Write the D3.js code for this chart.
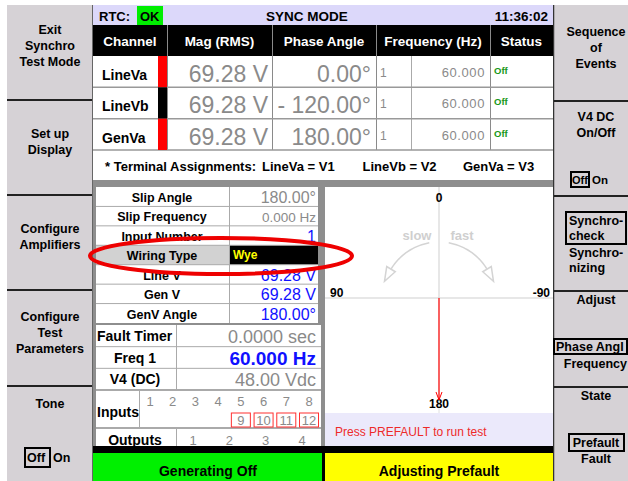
<!DOCTYPE html>
<html>
<head>
<meta charset="utf-8">
<script src="https://cdn.jsdelivr.net/npm/d3@7"></script>
<style>
  body { margin: 0; background: #fff; }
  text { font-family: "Liberation Sans", Arial, Helvetica, sans-serif; }
</style>
</head>
<body>
<div id="chart"></div>
<script>
// ---- data ----
const headers = ['Channel', 'Mag (RMS)', 'Phase Angle', 'Frequency (Hz)', 'Status'];
const channels = ['LineVa', 'LineVb', 'GenVa'];
const channelColors = ['#ff0000', '#000000', '#ff0000'];
const magnitudes = [69.28, 69.28, 69.28];
const phaseAngles = [0, -120, 180];
const freqInputs = [1, 1, 1];
const frequencies = [60, 60, 60];
const statuses = ['Off', 'Off', 'Off'];
const terminals = ['V1', 'V2', 'V3'];

const leftButtons = [['Exit', 'Synchro', 'Test Mode'], ['Set up', 'Display'], ['Configure', 'Amplifiers'], ['Configure', 'Test', 'Parameters'], ['Tone']];
const rightButtons = [['Sequence', 'of', 'Events'], ['V4 DC', 'On/Off'], [], ['Adjust'], ['State']];

const syncLabels = ['Slip Angle', 'Slip Frequency', 'Input Number', 'Wiring Type', 'Line V', 'Gen V', 'GenV Angle'];
const syncValues = ['180.00°', '0.000 Hz', '1', 'Wye', '69.28 V', '69.28 V', '180.00°'];
const testLabels = ['Fault Timer', 'Freq 1', 'V4 (DC)'];
const testValues = ['0.0000 sec', '60.000 Hz', '48.00 Vdc'];
const inputsTop = [1, 2, 3, 4, 5, 6, 7, 8];
const inputsBottom = [9, 10, 11, 12];
const outputs = [1, 2, 3, 4];

const polarTicks = [0, 90, -90, 180];
const slipAngle = 180;

// ---- setup ----
const width = 628, height = 481;
const panelGray = '#d6d2d6';
const svg = d3.select('#chart').append('svg')
  .attr('width', width)
  .attr('height', height);

const label = (x, y, s, o = {}) => svg.append('text')
  .attr('x', x).attr('y', y)
  .attr('font-size', o.size || 12)
  .attr('font-weight', o.weight || 'bold')
  .attr('fill', o.fill || '#000')
  .attr('text-anchor', o.anchor || 'start')
  .attr('letter-spacing', o.ls || 0)
  .text(s);

const rect = (x, y, w, h, fill) => svg.append('rect')
  .attr('x', x).attr('y', y).attr('width', w).attr('height', h).attr('fill', fill);

const line = (x1, y1, x2, y2, stroke, sw = 1) => svg.append('line')
  .attr('x1', x1).attr('y1', y1).attr('x2', x2).attr('y2', y2)
  .attr('stroke', stroke).attr('stroke-width', sw);

const box = (x, y, w, h) => svg.append('rect')
  .attr('x', x).attr('y', y).attr('width', w).attr('height', h)
  .attr('fill', 'none').attr('stroke', '#000').attr('stroke-width', 2);

// ---- side panels ----
rect(7, 5, 86, 476, panelGray);
rect(553, 5, 75, 476, panelGray);
line(92.5, 5, 92.5, 481, '#666');
line(553.5, 5, 553.5, 481, '#333', 1.5);

const sepY = [100, 195, 290, 386];
sepY.forEach(y => {
  line(7, y, 92, y, '#222', 2);
  line(554, y + 1, 628, y + 1, '#222', 2);
});

const btnTop = [5].concat(sepY);
const leftOffset = [29, 38, 38, 31, 22];
const rightOffset = [31, 21, 0, 14, 14];
leftButtons.forEach((lines, i) => {
  lines.forEach((s, j) => label(50, btnTop[i] + leftOffset[i] + j * 16, s, { size: 12.5, anchor: 'middle' }));
});
rightButtons.forEach((lines, i) => {
  lines.forEach((s, j) => label(596, btnTop[i] + rightOffset[i] + j * 16, s, { size: 12.5, anchor: 'middle' }));
});

// toggles
box(25, 448, 25, 19);
label(27, 462, 'Off', { size: 12.5 });
label(53, 462, 'On', { size: 12.5 });
box(571, 172, 18, 15);
label(572, 184, 'Off', { size: 11 });
label(592, 184, 'On', { size: 11.5 });

box(566, 212, 60, 32);
label(569, 225, 'Synchro-', { size: 12.5 });
label(569, 240, 'check', { size: 12.5 });
label(569, 257, 'Synchro-', { size: 12.5 });
label(569, 272, 'nizing', { size: 12.5 });

box(554, 339, 73, 15);
label(556, 351, 'Phase Angl', { size: 12.5 });
label(627, 368, 'Frequency', { size: 12.5, anchor: 'end' });

box(569, 434, 55, 17);
label(596, 447, 'Prefault', { size: 12.5, anchor: 'middle' });
label(596, 463, 'Fault', { size: 12.5, anchor: 'middle' });

// ---- top bar ----
rect(93, 5, 460, 20, '#dcd8fa');
rect(137, 6, 26, 19, '#00ee00');
label(99, 21, 'RTC:', { size: 13 });
label(140, 21, 'OK', { size: 13 });
label(307, 21, 'SYNC MODE', { size: 13.5, anchor: 'middle' });
label(548, 21, '11:36:02', { size: 13.5, anchor: 'end' });

// ---- channel table ----
const colX = [93, 167, 272, 376, 490, 553];
rect(93, 25, 460, 31, '#000');
headers.forEach((h, i) => {
  label((colX[i] + colX[i + 1]) / 2, 46, h, { size: 13.5, fill: '#fff', anchor: 'middle' });
});

const rowY = d3.scaleBand().domain(channels).range([56, 150]);
rect(93, 56, 460, 124, '#fff');
colX.slice(1, 5).forEach(x => line(x + 0.5, 25, x + 0.5, 150, '#8a8a8a'));
line(411.5, 56, 411.5, 150, '#aaa');
channels.forEach((c, i) => {
  const y = rowY(c);
  line(93, y + rowY.bandwidth(), 553, y + rowY.bandwidth(), '#999', 1.5);
  rect(158, y, 9, rowY.bandwidth(), channelColors[i]);
  label(102, y + 24, c, { size: 14 });
  label(268, y + 26, d3.format('.2f')(magnitudes[i]) + ' V', { size: 23, weight: 'normal', fill: '#8a8a8a', anchor: 'end' });
  const p = phaseAngles[i];
  label(371, y + 26, (p < 0 ? '- ' : '') + d3.format('.2f')(Math.abs(p)) + '°', { size: 23, weight: 'normal', fill: '#8a8a8a', anchor: 'end' });
  label(380, y + 21, freqInputs[i], { size: 12, weight: 'normal', fill: '#8a8a8a' });
  label(485, y + 21, d3.format('.3f')(frequencies[i]), { size: 13, weight: 'normal', fill: '#8a8a8a', anchor: 'end', ls: 0.6 });
  label(494, y + 18, statuses[i], { size: 9.5, fill: '#189818' });
});

// terminal assignments
label(105, 171, '* Terminal Assignments:', { size: 13 });
const termX = d3.scalePoint().domain(channels).range([262, 463]);
channels.forEach((c, i) => label(termX(c), 171, `${c} = ${terminals[i]}`, { size: 13 }));

// ---- lower left tables ----
rect(93, 180, 460, 7, '#8e8e8e');
rect(93, 180, 232, 273, '#8e8e8e');

const syncY = d3.scaleBand().domain(syncLabels).range([187, 323]);
rect(96, 187, 222, 136, '#fff');
syncLabels.forEach((s, i) => {
  const y = syncY(s), h = syncY.bandwidth();
  if (s === 'Wiring Type') {
    rect(96, y, 133, h, '#d2d2d2');
    rect(230, y, 88, h, '#000');
  }
  if (i > 0) line(96, y, 318, y, '#aaa');
  label(162, y + 15, s, { size: 12.5, anchor: 'middle' });
  const v = syncValues[i];
  if (s === 'Wiring Type') {
    label(233, y + 14, v, { size: 12, fill: '#ffff00' });
  } else {
    const blue = i >= 2;
    label(316, y + 16, v, { size: i === 1 ? 13.5 : 16, weight: 'normal', fill: blue ? '#1010ff' : '#8a8a8a', anchor: 'end' });
  }
});
line(229.5, 187, 229.5, 323, '#aaa');

const testY = d3.scaleBand().domain(testLabels).range([325, 390]);
rect(96, 325, 225, 121, '#fff');
line(176.5, 325, 176.5, 390, '#aaa');
testLabels.forEach((s, i) => {
  const y = testY(s);
  if (i > 0) line(96, y, 321, y, '#aaa');
  if (i === 0) label(97, y + 16, s, { size: 14 });
  else label(135, y + 16, s, { size: 14, anchor: 'middle' });
  label(316, y + 18, testValues[i], i === 1
    ? { size: 19, fill: '#1010ff', anchor: 'end' }
    : { size: 18, weight: 'normal', fill: '#8a8a8a', anchor: 'end' });
});

// inputs / outputs
line(96, 390, 321, 390, '#aaa', 2);
line(96, 428, 321, 428, '#aaa', 2);
line(139.5, 390, 139.5, 428, '#aaa');
line(176.5, 428, 176.5, 446, '#aaa');
label(97, 417, 'Inputs', { size: 14 });
label(135, 445, 'Outputs', { size: 14, anchor: 'middle' });

const inX = d3.scalePoint().domain(inputsTop).range([150, 309]);
inputsTop.forEach(n => label(inX(n), 406, n, { size: 13, weight: 'normal', fill: '#8a8a8a', anchor: 'middle' }));
inputsBottom.forEach((n, i) => {
  const x = inX(inputsTop[i + 4]);
  svg.append('rect').attr('x', x - 9.5).attr('y', 413).attr('width', 19).attr('height', 14)
    .attr('fill', 'none').attr('stroke', '#ff3030').attr('stroke-width', 1);
  label(x, 425, n, { size: 13, weight: 'normal', fill: '#8a8a8a', anchor: 'middle' });
});
const outX = d3.scalePoint().domain(outputs).range([193, 302]);
outputs.forEach(n => label(outX(n), 445, n, { size: 13, weight: 'normal', fill: '#8a8a8a', anchor: 'middle' }));

// ---- polar (synchroscope) ----
const cx = 439, cy = 298;
rect(325, 187, 228, 226, '#fff');
rect(325, 413, 228, 33, '#ebe9fb');
line(325, cy, 553, cy, '#cfcfcf');
line(cx, 187, cx, cy, '#cfcfcf');
line(cx, cy, cx, 413, '#e0e0e0');

const angle = d3.scaleLinear().domain([0, 360]).range([0, 2 * Math.PI]);
const pt = (deg, r) => [cx - r * Math.sin(angle(deg)), cy - r * Math.cos(angle(deg))];

polarTicks.forEach(t => {
  const [x, y] = pt(t, 101);
  const anchor = t === 90 ? 'start' : t === -90 ? 'end' : 'middle';
  const dx = t === 90 ? -8 : t === -90 ? 10 : 0;
  label(x + dx, y + (t === 180 ? 9 : t === 0 ? 5 : -1), t, { size: 12, anchor });
});

// slow / fast arrows
label(417, 240, 'slow', { size: 13, fill: '#cfcfcf', anchor: 'middle' });
label(462, 240, 'fast', { size: 13, fill: '#cfcfcf', anchor: 'middle' });
[1, -1].forEach(sgn => {
  const arc = d3.range(10, 61, 2).map(a => pt(sgn * a, 56));
  svg.append('path').attr('d', d3.line()(arc))
    .attr('fill', 'none').attr('stroke', '#d4d4d4').attr('stroke-width', 1.5);
  const tri = [pt(sgn * 59, 51), pt(sgn * 59, 61), pt(sgn * 73, 57)];
  svg.append('path').attr('d', d3.line()(tri) + 'Z')
    .attr('fill', '#fff').attr('stroke', '#d4d4d4').attr('stroke-width', 1.5);
});

// slip angle phasor
const tip = pt(slipAngle, 102);
line(cx, cy, tip[0], tip[1], '#ff0000', 1.2);
svg.append('path')
  .attr('d', d3.line()([[tip[0] - 3, tip[1] - 8], tip, [tip[0] + 3, tip[1] - 8]]))
  .attr('fill', 'none').attr('stroke', '#ff0000').attr('stroke-width', 1);

label(335, 436, 'Press PREFAULT to run test', { size: 12, weight: 'normal', fill: '#ee2a2a' });

// ---- status bars ----
rect(93, 446, 460, 35, '#000');
rect(93, 453, 229, 28, '#00f000');
rect(325, 453, 228, 28, '#ffff00');
label(208, 476, 'Generating Off', { size: 14, anchor: 'middle' });
label(439, 476, 'Adjusting Prefault', { size: 14, anchor: 'middle' });

// ---- highlight ellipse ----
svg.append('ellipse')
  .attr('cx', 221).attr('cy', 256).attr('rx', 131).attr('ry', 18)
  .attr('fill', 'none').attr('stroke', '#ee0000').attr('stroke-width', 4);
</script>
</body>
</html>
